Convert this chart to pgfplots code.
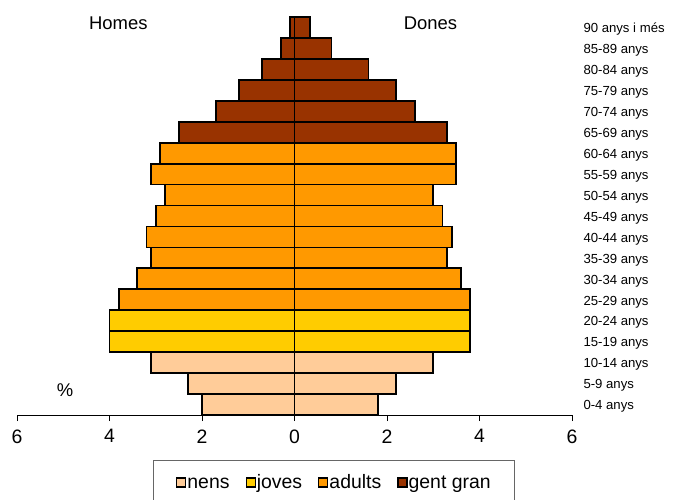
\documentclass[border=0pt]{standalone}
\usepackage{pgfplots}
\pgfplotsset{compat=1.18}
\usepackage{fontspec}
\setmainfont{Liberation Sans}
\definecolor{cnens}{HTML}{FFCC99}
\definecolor{cjoves}{HTML}{FFCC00}
\definecolor{cadults}{HTML}{FF9900}
\definecolor{cgent}{HTML}{993300}
\begin{document}
\begin{tikzpicture}
\path[use as bounding box] (-17bp,-85bp) rectangle (664bp,415bp);
\begin{axis}[
  at={(0,0)}, anchor=south west,
  scale only axis, width=555bp, height=398bp,
  xmin=-6, xmax=6, ymin=-0.5, ymax=18.5,
  clip=false,
  xbar, bar width=1, bar shift=0pt,
  axis x line*=bottom, axis y line*=right,
  x axis line style={-, line width=0.8bp},
  y axis line style={draw=none},
  xtick={-6,-4,-2,0,2,4,6},
  xticklabel={\pgfmathparse{abs(\tick)}\pgfmathprintnumber{\pgfmathresult}},
  /pgf/number format/assume math mode=true,
  tick align=outside,
  major tick length=6bp,
  xtick style={black, line width=0.8bp},
  ytick style={draw=none},
  ytick={0,...,18},
  yticklabels={0-4 anys,5-9 anys,10-14 anys,15-19 anys,20-24 anys,25-29 anys,30-34 anys,35-39 anys,40-44 anys,45-49 anys,50-54 anys,55-59 anys,60-64 anys,65-69 anys,70-74 anys,75-79 anys,80-84 anys,85-89 anys,90 anys i més},
  yticklabel style={anchor=west, font=\fontsize{13.2}{15}\selectfont, xshift=2bp, yshift=-2bp},
  xticklabel style={font=\fontsize{19.5}{22}\selectfont, yshift=-5bp},
  legend columns=4,
  legend style={at={(0.571,0)}, anchor=north, yshift=-45bp,
    draw=black!60, line width=0.8bp,
    font=\fontsize{19.5}{21}\selectfont,
    nodes={inner xsep=1bp, text height=0.72em, text depth=0.22em},
    inner xsep=23bp, inner ysep=17bp,
    /tikz/every even column/.append style={column sep=15bp}},
  legend image code/.code={\draw[#1, draw=black, line width=1.3bp] (0bp,-1bp) rectangle (9bp,8bp);},
]
\addplot[fill=cnens, draw=black, line width=1.8bp, bar width=1, bar shift=0pt] coordinates {
 (-2.0,0) (-2.3,1) (-3.1,2) (1.8,0) (2.2,1) (3.0,2)};
\addplot[fill=cjoves, draw=black, line width=1.8bp, bar width=1, bar shift=0pt] coordinates {
 (-4.0,3) (-4.0,4) (3.8,3) (3.8,4)};
\addplot[fill=cadults, draw=black, line width=1.8bp, bar width=1, bar shift=0pt] coordinates {
 (-3.8,5) (-3.4,6) (-3.1,7) (-3.2,8) (-3.0,9) (-2.8,10) (-3.1,11) (-2.9,12)
 (3.8,5) (3.6,6) (3.3,7) (3.4,8) (3.2,9) (3.0,10) (3.5,11) (3.5,12)};
\addplot[fill=cgent, draw=black, line width=1.8bp, bar width=1, bar shift=0pt] coordinates {
 (-2.5,13) (-1.7,14) (-1.2,15) (-0.7,16) (-0.3,17) (-0.1,18)
 (3.3,13) (2.6,14) (2.2,15) (1.6,16) (0.8,17) (0.33,18)};
\legend{nens,joves,adults,gent gran}
\node[font=\fontsize{18.5}{20}\selectfont] at (axis cs:-3.81,18.22) {Homes};
\node[font=\fontsize{18.5}{20}\selectfont] at (axis cs:2.94,18.22) {Dones};
\node[font=\fontsize{18.5}{20}\selectfont] at (axis cs:-4.96,0.69) {\%};
\end{axis}
\end{tikzpicture}
\end{document}
